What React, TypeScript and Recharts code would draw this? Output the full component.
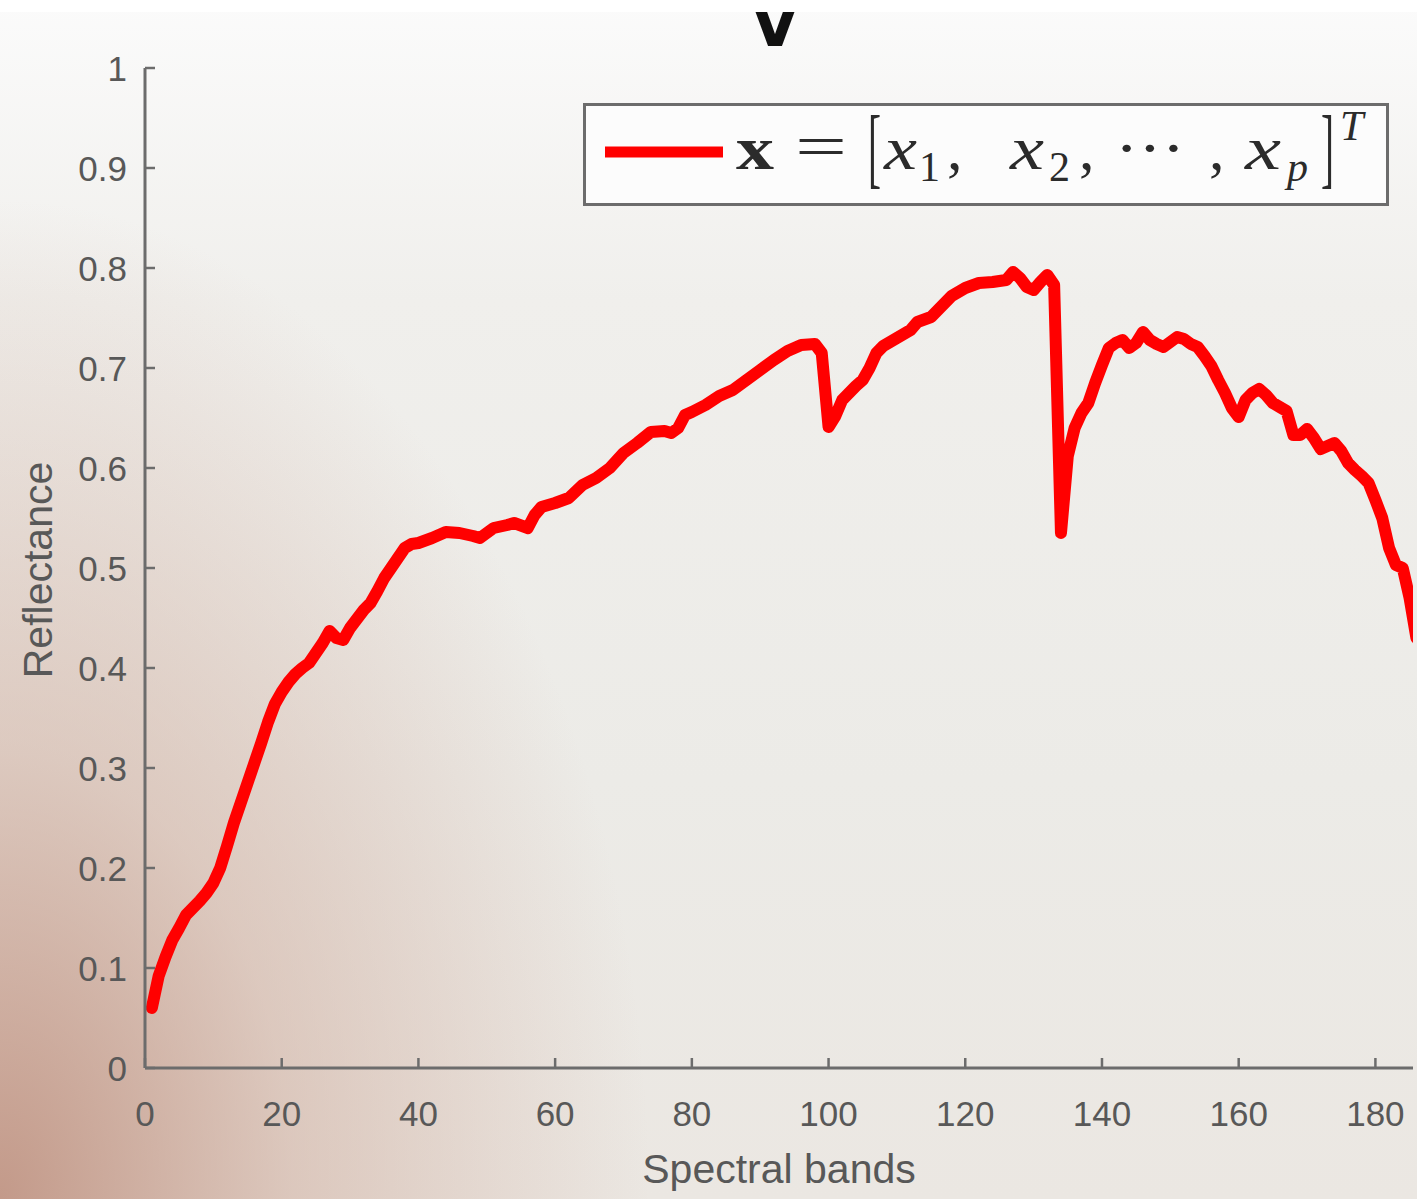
import React from 'react';
import { LineChart, Line, XAxis, YAxis, Legend } from 'recharts';

const bands = [
  1, 2, 3, 4, 5, 6, 7, 8, 9, 10, 11, 12, 13, 14, 15, 16, 17, 18, 19, 20,
  21, 22, 23, 24, 25, 26, 27, 28, 29, 30, 31, 32, 33, 34, 35, 36, 37, 38, 39, 40,
  42, 44, 46, 48, 49, 51, 53, 54, 56, 57, 58, 60, 62, 64, 66, 68, 70, 72, 74, 76,
  77, 78, 79, 80, 82, 84, 86, 88, 90, 92, 94, 96, 98, 99, 100, 101, 102, 104, 105, 106,
  107, 108, 110, 112, 113, 115, 116, 118, 120, 122, 124, 126, 127, 128, 129, 130, 131, 132, 133, 134,
  135, 136, 137, 138, 139, 140, 141, 142, 143, 144, 145, 146, 147, 148, 149, 150, 151, 152, 153, 154,
  155, 156, 157, 158, 159, 160, 161, 162, 163, 164, 165, 166, 167, 168, 169, 170, 171, 172, 173, 174,
  175, 176, 177, 178, 179, 180, 181, 182, 183, 184, 185, 186,
];

const reflectance = [
  0.060, 0.092, 0.111, 0.128, 0.140, 0.153, 0.160, 0.167, 0.175, 0.185, 0.200, 0.222, 0.245, 0.265, 0.285, 0.305, 0.325, 0.346, 0.364, 0.376,
  0.386, 0.394, 0.400, 0.405, 0.415, 0.425, 0.437, 0.430, 0.428, 0.440, 0.449, 0.458, 0.465, 0.477, 0.490, 0.500, 0.510, 0.520, 0.524, 0.525,
  0.530, 0.536, 0.535, 0.532, 0.530, 0.540, 0.543, 0.545, 0.540, 0.553, 0.561, 0.565, 0.570, 0.583, 0.590, 0.600, 0.615, 0.625, 0.636, 0.637,
  0.635, 0.640, 0.653, 0.656, 0.663, 0.672, 0.678, 0.688, 0.698, 0.708, 0.717, 0.723, 0.724, 0.715, 0.641, 0.652, 0.668, 0.682, 0.688, 0.700,
  0.715, 0.722, 0.730, 0.738, 0.746, 0.751, 0.758, 0.772, 0.780, 0.785, 0.786, 0.788, 0.796, 0.790, 0.781, 0.778, 0.786, 0.793, 0.783, 0.535,
  0.612, 0.640, 0.655, 0.665, 0.685, 0.703, 0.720, 0.725, 0.728, 0.720, 0.725, 0.736, 0.728, 0.724, 0.721, 0.726, 0.731, 0.729, 0.724, 0.721,
  0.712, 0.702, 0.688, 0.675, 0.660, 0.651, 0.668, 0.675, 0.679, 0.673, 0.665, 0.661, 0.657, 0.633, 0.633, 0.639, 0.630, 0.619, 0.622, 0.625,
  0.617, 0.605, 0.598, 0.592, 0.585, 0.568, 0.550, 0.520, 0.503, 0.500, 0.470, 0.430,
];

const xTicks = [0, 20, 40, 60, 80, 100, 120, 140, 160, 180];
const yTicks = [0, 0.1, 0.2, 0.3, 0.4, 0.5, 0.6, 0.7, 0.8, 0.9, 1];
const xLabel = 'Spectral bands';
const yLabel = 'Reflectance';
const seriesName = 'x = [x1, x2, ..., xp]^T';

const data = bands.map((b, i) => ({ band: b, value: reflectance[i] }));

const AXIS = '#6c6c6c';
const TXT = '#585858';
const SANS = '"Liberation Sans", Arial, Helvetica, sans-serif';
const SERIF = '"Liberation Serif", "Times New Roman", serif';
const MATH = '#2b2b2b';

function BottomTick(props: any) {
  const { x, y, payload } = props;
  return (
    <g>
      <line x1={x} x2={x} y1={y} y2={y - 10} stroke={AXIS} strokeWidth={2.5} />
      <text x={x} y={y + 58} textAnchor="middle" fontSize={35} fill={TXT} fontFamily={SANS}>
        {payload.value}
      </text>
    </g>
  );
}

function TopTick(props: any) {
  const { x, y } = props;
  return <line x1={x} x2={x} y1={y} y2={y + 10} stroke={AXIS} strokeWidth={2.5} />;
}

function LeftTick(props: any) {
  const { x, y, payload } = props;
  return (
    <g>
      <line x1={x} x2={x + 10} y1={y} y2={y} stroke={AXIS} strokeWidth={2.5} />
      <text x={x - 18} y={y} dy="0.36em" textAnchor="end" fontSize={35} fill={TXT} fontFamily={SANS}>
        {String(payload.value)}
      </text>
    </g>
  );
}

function RightTick(props: any) {
  const { x, y } = props;
  return <line x1={x} x2={x - 10} y1={y} y2={y} stroke={AXIS} strokeWidth={2.5} />;
}

function LegendBox() {
  return (
    <div
      style={{
        width: 806,
        height: 103,
        boxSizing: 'border-box',
        border: `3px solid ${AXIS}`,
        background: '#fcfcfc',
        position: 'relative',
      }}
    >
      <svg width={806} height={103} style={{ position: 'absolute', left: -3, top: -3 }}>
        <line x1={22} x2={140} y1={49} y2={49} stroke="#ff0000" strokeWidth={11} />
        <g fill={MATH} fontFamily={SERIF}>
          <text x={153} y={66} fontSize={62} fontWeight="bold" textLength={38} lengthAdjust="spacingAndGlyphs">x</text>
          <text x={212} y={64} fontSize={62} textLength={52} lengthAdjust="spacingAndGlyphs">=</text>
          <text x={285} y={74} fontSize={88} textLength={13} lengthAdjust="spacingAndGlyphs">[</text>
          <text x={301} y={66} fontSize={62} fontStyle="italic" textLength={33} lengthAdjust="spacingAndGlyphs">x</text>
          <text x={336} y={78} fontSize={42}>1</text>
          <text x={364} y={66} fontSize={62}>,</text>
          <text x={427} y={66} fontSize={62} fontStyle="italic" textLength={34} lengthAdjust="spacingAndGlyphs">x</text>
          <text x={466} y={78} fontSize={42}>2</text>
          <text x={496} y={66} fontSize={62}>,</text>
          <text x={532} y={66} fontSize={62} textLength={70} lengthAdjust="spacingAndGlyphs">···</text>
          <text x={626} y={66} fontSize={62}>,</text>
          <text x={662} y={66} fontSize={62} fontStyle="italic" textLength={36} lengthAdjust="spacingAndGlyphs">x</text>
          <text x={704} y={78} fontSize={42} fontStyle="italic">p</text>
          <text x={738} y={74} fontSize={88} textLength={13} lengthAdjust="spacingAndGlyphs">]</text>
          <text x={757} y={37} fontSize={42} fontStyle="italic">T</text>
        </g>
      </svg>
    </div>
  );
}

function YTitle(props: any) {
  const cx = 52;
  const cy = 570;
  return (
    <text
      x={cx}
      y={cy}
      transform={`rotate(-90 ${cx} ${cy})`}
      textAnchor="middle"
      fontSize={41}
      fill={TXT}
      fontFamily={SANS}
    >
      {yLabel}
    </text>
  );
}

function XTitle(props: any) {
  return (
    <text x={779} y={1183} textAnchor="middle" fontSize={41} fill={TXT} fontFamily={SANS}>
      {xLabel}
    </text>
  );
}

export default function App() {
  return (
    <div
      style={{
        position: 'absolute',
        left: 0,
        top: 0,
        width: 1417,
        height: 1199,
        overflow: 'hidden',
        background:
          'radial-gradient(ellipse 650px 1000px at 0px 1199px, rgba(188,140,122,0.85) 0%, rgba(205,168,152,0.5) 45%, rgba(230,214,205,0) 100%), linear-gradient(180deg, #fbfbfb 0%, #f0efec 25%, #ecebe7 65%, #ebe7e2 100%)',
      }}
    >
      <svg width={80} height={60} style={{ position: 'absolute', left: 735, top: 0 }}>
        <text x={40} y={46} textAnchor="middle" fontSize={62} fontWeight="bold" fill="#111" fontFamily='"DejaVu Sans", sans-serif'>
          V
        </text>
      </svg>
      <div style={{ position: 'absolute', left: 0, top: 0, width: 1417, height: 12, background: '#ffffff' }} />
      <LineChart
        width={1417}
        height={1199}
        data={data}
        margin={{ top: 68, right: 4, left: 45, bottom: 71 }}
        style={{ position: 'absolute', left: 0, top: 0 }}
      >
        <XAxis
          dataKey="band"
          type="number"
          domain={[0, 185.5]}
          ticks={xTicks}
          allowDataOverflow
          height={60}
          axisLine={{ stroke: AXIS, strokeWidth: 3 }}
          tickLine={false}
          tickSize={0}
          tickMargin={0}
          tick={<BottomTick />}
          interval={0}
          label={{ content: <XTitle /> }}
        />
        <XAxis
          xAxisId="top"
          orientation="top"
          dataKey="band"
          type="number"
          domain={[0, 185.5]}
          ticks={xTicks}
          allowDataOverflow
          height={0}
          axisLine={{ stroke: AXIS, strokeWidth: 3 }}
          tickLine={false}
          tickSize={0}
          tickMargin={0}
          tick={<TopTick />}
          interval={0}
        />
        <YAxis
          type="number"
          domain={[0, 1]}
          ticks={yTicks}
          allowDataOverflow
          width={100}
          axisLine={{ stroke: AXIS, strokeWidth: 3 }}
          tickLine={false}
          tickSize={0}
          tickMargin={0}
          tick={<LeftTick />}
          interval={0}
          label={{ content: <YTitle /> }}
        />
        <YAxis
          yAxisId="right"
          orientation="right"
          type="number"
          domain={[0, 1]}
          ticks={yTicks}
          allowDataOverflow
          width={0}
          axisLine={{ stroke: AXIS, strokeWidth: 3 }}
          tickLine={false}
          tickSize={0}
          tickMargin={0}
          tick={<RightTick />}
          interval={0}
        />
        <Legend
          layout="vertical"
          align="center"
          verticalAlign="middle"
          wrapperStyle={{ top: 103, left: 583, width: 806, height: 103 }}
          content={() => <LegendBox />}
        />
        <Line
          type="linear"
          dataKey="value"
          name={seriesName}
          stroke="#ff0000"
          strokeWidth={12}
          strokeLinejoin="round"
          strokeLinecap="round"
          dot={false}
          activeDot={false}
          isAnimationActive={false}
        />
      </LineChart>
    </div>
  );
}
